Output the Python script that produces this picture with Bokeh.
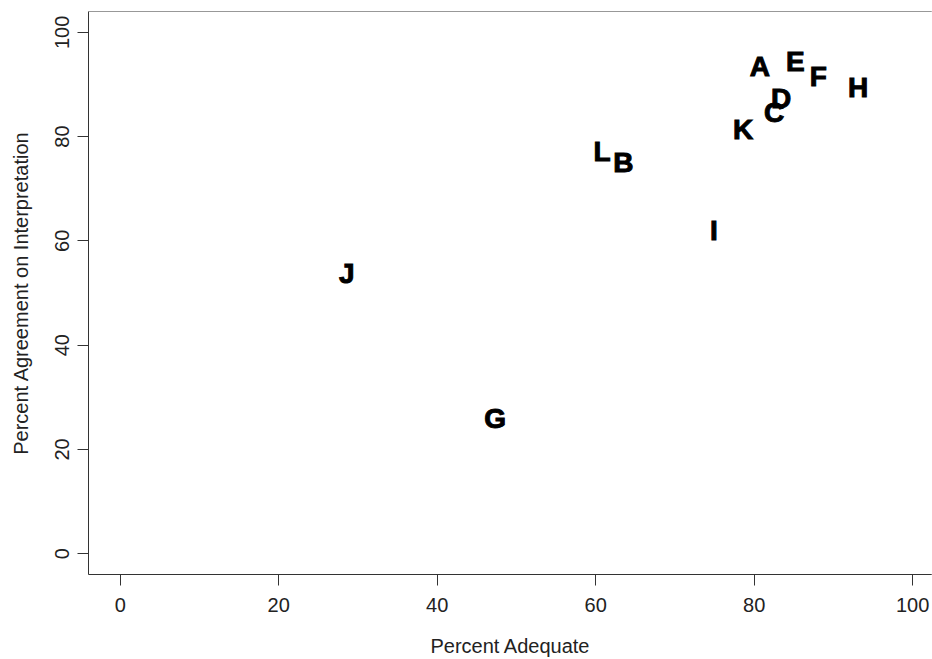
from bokeh.plotting import figure
from bokeh.models import Range1d, Span, FixedTicker, ColumnDataSource
from bokeh.core.properties import value
from bokeh.embed import file_html
from bokeh.resources import INLINE

labels = ["A", "B", "C", "D", "E", "F", "G", "H", "I", "J", "K", "L"]
pct_adequate = [80.7, 63.5, 82.5, 83.4, 85.2, 88.1, 47.3, 93.1, 74.9, 28.6, 78.6, 60.8]
pct_agreement = [93.4, 75.0, 84.6, 87.4, 94.5, 91.5, 26.0, 89.4, 62.0, 53.8, 81.3, 77.1]
x_ticks = [0, 20, 40, 60, 80, 100]
y_ticks = [0, 20, 40, 60, 80, 100]

FONT = "Liberation Sans"
AX = "#333333"

p = figure(width=932, height=659, output_backend="svg", toolbar_location=None,
           x_range=Range1d(-4, 102.5), y_range=Range1d(-4, 104),
           min_border_left=88, min_border_right=0, min_border_top=11, min_border_bottom=85)
p.grid.visible = False
p.outline_line_color = None
p.background_fill_color = "white"
p.border_fill_color = "white"

for ax in (p.xaxis[0], p.yaxis[0]):
    ax.axis_line_color = AX
    ax.axis_line_width = 1
    ax.major_tick_line_color = AX
    ax.major_tick_out = 11
    ax.major_tick_in = 0
    ax.minor_tick_line_color = None
    ax.major_label_text_font = FONT
    ax.major_label_text_font_size = "20px"
    ax.major_label_text_color = "#222222"
    ax.axis_label_text_font = FONT
    ax.axis_label_text_font_size = "20px"
    ax.axis_label_text_font_style = "normal"
    ax.axis_label_text_color = "#222222"

p.xaxis.ticker = FixedTicker(ticks=x_ticks)
p.yaxis.ticker = FixedTicker(ticks=y_ticks)
p.xaxis.axis_label = "Percent Adequate"
p.yaxis.axis_label = "Percent Agreement on Interpretation"
p.xaxis.major_label_standoff = 12
p.xaxis.axis_label_standoff = 20
p.yaxis.major_label_standoff = 8
p.yaxis.axis_label_standoff = 21
p.yaxis.major_label_orientation = "vertical"

# top edge of the box
p.add_layout(Span(location=104, dimension="width", line_color=AX, line_width=1))
# mask any frame edge at the far right (the reference box is cut off there)
p.add_layout(Span(location=102.5, dimension="height", line_color="white", line_width=3))

src = ColumnDataSource(dict(x=pct_adequate, y=pct_agreement, t=labels))
p.text(x="x", y="y", text="t", source=src, text_font=value(FONT), text_font_style="bold",
       text_font_size="28px", text_align="center", text_baseline="middle", text_color="black",
       text_outline_color="black")

open("out.html", "w").write(file_html(p, INLINE))
